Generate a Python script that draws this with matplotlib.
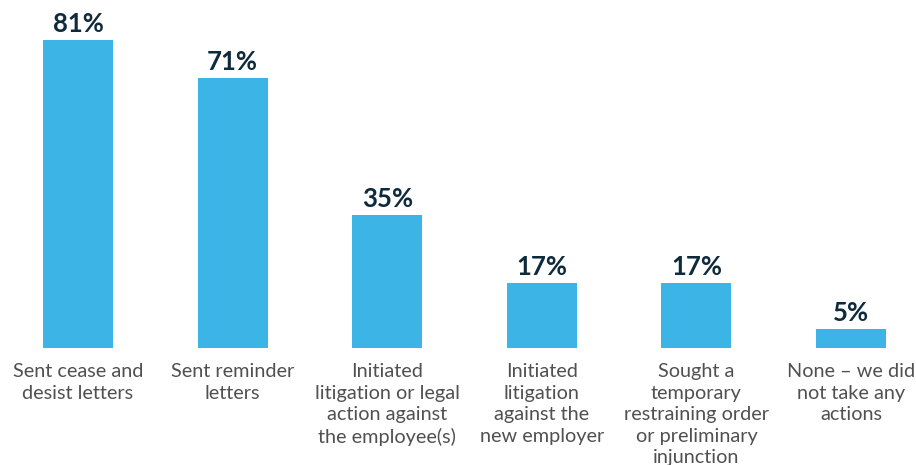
import matplotlib.pyplot as plt
import numpy as np

categories = [
    'Sent cease and\ndesist letters',
    'Sent reminder\nletters',
    'Initiated\nlitigation or legal\naction against\nthe employee(s)',
    'Initiated\nlitigation\nagainst the\nnew employer',
    'Sought a\ntemporary\nrestraining order\nor preliminary\ninjunction',
    'None \u2013 we did\nnot take any\nactions',
]
shares = [81, 71, 35, 17, 17, 5]

BAR_COLOR = '#3db4e6'
VALUE_COLOR = '#0e2a3d'
TEXT_COLOR = '#505050'

fig = plt.figure(figsize=(9.16, 4.65), dpi=100)
ax = fig.add_axes([0, 117 / 465, 1, 348 / 465])

x = np.arange(len(shares))
bars = ax.bar(x, shares, width=0.453, color=BAR_COLOR)

for rect, val in zip(bars, shares):
    ax.annotate(f'{val}%', (rect.get_x() + rect.get_width() / 2, val),
                xytext=(0, 6), textcoords='offset points',
                ha='center', va='baseline', fontsize=18.5, fontweight='bold',
                family=['Lato', 'DejaVu Sans'], color=VALUE_COLOR)

ax.set_xlim(-0.5045, 5.42)
ax.set_ylim(0, 91.5)
ax.set_xticks(x)
ax.set_xticklabels(categories, fontsize=14.3, family=['Lato', 'DejaVu Sans'],
                   color=TEXT_COLOR, linespacing=1.32)
ax.tick_params(axis='x', length=0, pad=11)
ax.set_yticks([])
for spine in ax.spines.values():
    spine.set_visible(False)

fig.savefig('out.png', dpi=100)
